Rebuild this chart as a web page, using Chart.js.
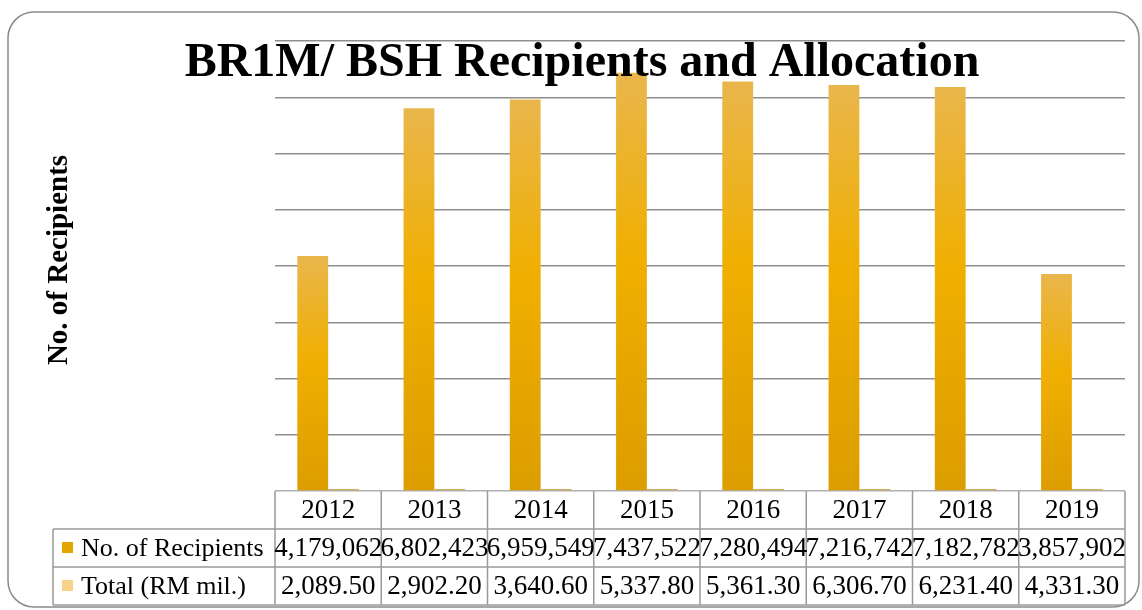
<!DOCTYPE html>
<html>
<head>
<meta charset="utf-8">
<script src="https://cdn.jsdelivr.net/npm/chart.js@4"></script>
<style>
    html, body { margin: 0; padding: 0; background: #ffffff; }
    #wrap { width: 1142px; height: 610px; }
</style>
</head>
<body>
<div id="wrap"><canvas id="chart" width="1142" height="610"></canvas></div>
<script>
// data
const years = ['2012', '2013', '2014', '2015', '2016', '2017', '2018', '2019'];
const recipients = [4179062, 6802423, 6959549, 7437522, 7280494, 7216742, 7182782, 3857902];
const totalRM = [2089.50, 2902.20, 3640.60, 5337.80, 5361.30, 6306.70, 6231.40, 4331.30];
const recipientLabels = ['4,179,062', '6,802,423', '6,959,549', '7,437,522', '7,280,494', '7,216,742', '7,182,782', '3,857,902'];
const totalLabels = ['2,089.50', '2,902.20', '3,640.60', '5,337.80', '5,361.30', '6,306.70', '6,231.40', '4,331.30'];
const seriesNames = ['No. of Recipients', 'Total (RM mil.)'];
const yTicks = { min: 0, max: 8000000, step: 1000000 };

const FONT = '"Liberation Serif", "Times New Roman", serif';

// per-bar vertical gradient like the office chart
function barFill(ctx, stops, fallback) {
    const chart = ctx.chart;
    if (!chart.chartArea || ctx.type !== 'data') return fallback;
    const y = chart.scales.y;
    const top = y.getPixelForValue(ctx.raw);
    const bottom = y.getPixelForValue(0);
    if (!isFinite(top) || bottom - top < 2) return fallback;
    const g = chart.ctx.createLinearGradient(0, top, 0, bottom);
    stops.forEach(([p, c]) => g.addColorStop(p, c));
    return g;
}

// title, y title, frame and data table
const decorPlugin = {
    id: 'decor',
    afterDraw(chart) {
        const c = chart.ctx;
        const area = chart.chartArea;
        const x = chart.scales.x;
        const colW = area.width / years.length;

        c.save();

        // outer rounded frame
        c.strokeStyle = '#8a8a8a';
        c.lineWidth = 1.5;
        c.beginPath();
        c.roundRect(8, 12, 1131, 595, 26);
        c.stroke();

        // table grid
        const rowTop = area.bottom;
        const r1 = 529, r2 = 567, r3 = 605;
        const labelLeft = 53;
        c.strokeStyle = '#9a9a9a';
        c.lineWidth = 1.5;
        c.beginPath();
        c.moveTo(area.left, rowTop); c.lineTo(area.left, r3);
        for (let i = 0; i < years.length; i++) {
            const right = x.getPixelForValue(i) + colW / 2;
            c.moveTo(right, rowTop); c.lineTo(right, r3);
        }
        c.moveTo(labelLeft, r1); c.lineTo(area.right, r1);
        c.moveTo(labelLeft, r2); c.lineTo(area.right, r2);
        c.moveTo(labelLeft, r3); c.lineTo(area.right, r3);
        c.moveTo(labelLeft, r1); c.lineTo(labelLeft, r3);
        c.stroke();

        // table text
        c.fillStyle = '#000';
        c.font = '27px ' + FONT;
        c.textAlign = 'center';
        c.textBaseline = 'middle';
        years.forEach((yr, i) => {
            const cx = x.getPixelForValue(i);
            c.fillText(yr, cx, (rowTop + r1) / 2 + 1);
            c.fillText(recipientLabels[i], cx, (r1 + r2) / 2 + 1);
            c.fillText(totalLabels[i], cx, (r2 + r3) / 2 + 1);
        });

        // legend keys in the row headers
        const keyColors = ['#E6A600', '#F8D18A'];
        c.font = '26px ' + FONT;
        [r1, r2].forEach((top, k) => {
            const mid = top + 19;
            c.fillStyle = keyColors[k];
            c.fillRect(62, mid - 6, 11, 11);
            c.fillStyle = '#000';
            c.textAlign = 'left';
            c.fillText(seriesNames[k], 81, mid + 1);
        });

        // title drawn over the plot like the reference
        c.font = 'bold 48px ' + FONT;
        c.textAlign = 'center';
        c.textBaseline = 'alphabetic';
        c.fillText('BR1M/ BSH Recipients and Allocation', 582, 76);

        // y axis title
        c.translate(60, 260);
        c.rotate(-Math.PI / 2);
        c.font = 'bold 29px ' + FONT;
        c.textBaseline = 'middle';
        c.fillText('No. of Recipients', 0, 0);

        c.restore();
    }
};

new Chart(document.getElementById('chart'), {
    type: 'bar',
    data: {
        labels: years,
        datasets: [
            {
                label: seriesNames[0],
                data: recipients,
                backgroundColor: ctx => barFill(ctx, [[0, '#E9B64C'], [0.45, '#F0AF00'], [1, '#DC9D00']], '#EAAA10'),
                borderWidth: 0
            },
            {
                label: seriesNames[1],
                data: totalRM,
                backgroundColor: '#D2AA60',
                minBarLength: 2,
                borderWidth: 0
            }
        ]
    },
    plugins: [decorPlugin],
    options: {
        responsive: false,
        animation: false,
        layout: { padding: { left: 275, right: 17, top: 41, bottom: 119 } },
        datasets: { bar: { categoryPercentage: 0.58, barPercentage: 1 } },
        plugins: {
            legend: { display: false },
            title: { display: false },
            tooltip: { enabled: false }
        },
        scales: {
            x: {
                grid: { display: false },
                border: { display: false },
                ticks: { display: false },
                afterFit(scale) { scale.height = 0; }
            },
            y: {
                min: yTicks.min,
                max: yTicks.max,
                ticks: { display: false, stepSize: yTicks.step },
                grid: {
                    drawTicks: false,
                    lineWidth: 1.5,
                    color: ctx => ctx.tick && ctx.tick.value === 0 ? '#b0b0b0' : '#8e8e8e'
                },
                border: { display: false },
                afterFit(scale) { scale.width = 0; }
            }
        }
    }
});
</script>
</body>
</html>
